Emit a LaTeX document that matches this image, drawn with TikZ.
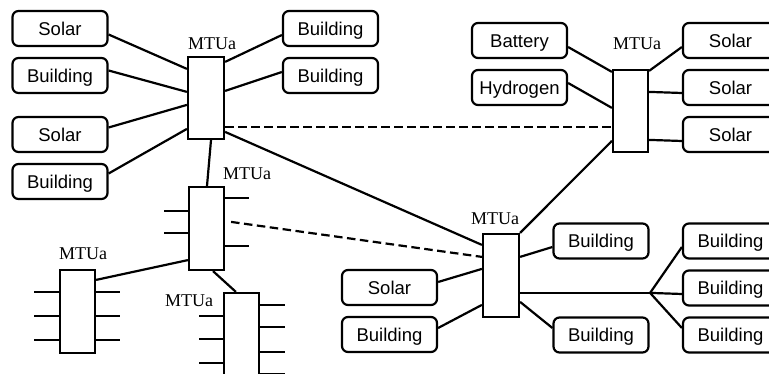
\documentclass[tikz,border=0pt]{standalone}
\usepackage{fontspec}
\setmainfont{Liberation Serif}
\newfontfamily\boxfont{Liberation Sans}
\usetikzlibrary{calc}
\begin{document}
\begin{tikzpicture}[x=1pt,y=-1pt,line width=2.2pt,
  dev/.style={draw,rounded corners=6pt,minimum width=95pt,minimum height=35pt,inner sep=0pt,
    font=\boxfont\fontsize{18.5}{20}\selectfont,text height=13.3pt,text depth=0pt},
  mtu/.style={draw,fill=white,minimum width=35pt,minimum height=83pt,inner sep=0pt},
  lbl/.style={font=\fontsize{18}{20}\selectfont,inner sep=0pt,text height=12.2pt,text depth=0pt},
  dashline/.style={dash pattern=on 8.5pt off 4.5pt}]
\useasboundingbox (0,0) rectangle (769,374);
\clip (0,0) rectangle (769,374);
% left column
\node[dev] (s1) at (60,28.5) {Solar};
\node[dev] (b1) at (60,75.5) {Building};
\node[dev] (s2) at (60,134.5) {Solar};
\node[dev] (b2) at (60,181.5) {Building};
\node[dev] (tb1) at (330.5,28.5) {Building};
\node[dev] (tb2) at (330.5,75.5) {Building};
% top right
\node[dev] (bat) at (519.5,40.5) {Battery};
\node[dev] (hyd) at (519.5,87.5) {Hydrogen};
\node[dev] (rs1) at (730.5,40.5) {Solar};
\node[dev] (rs2) at (730.5,87.5) {Solar};
\node[dev] (rs3) at (730.5,134.5) {Solar};
% bottom right
\node[dev] (ls) at (389.5,287.5) {Solar};
\node[dev] (lb) at (389.5,334.5) {Building};
\node[dev] (bm1) at (601,241) {Building};
\node[dev] (bm2) at (601,335) {Building};
\node[dev] (rb1) at (730.5,241) {Building};
\node[dev] (rb2) at (730.5,288) {Building};
\node[dev] (rb3) at (730.5,335) {Building};
% MTUs
\node[mtu,minimum width=36pt,minimum height=82pt] (m1) at (206,98) {};
\node[mtu] (m2) at (206.5,228.5) {};
\node[mtu] (m3) at (77.5,311.5) {};
\node[mtu,minimum height=100pt] (m4) at (241.5,343) {};
\node[mtu,minimum height=82pt] (m5) at (630.5,111) {};
\node[mtu,minimum width=36pt] (m6) at (501,275.5) {};
% labels
\node[lbl] (l1) at (212,43) {MTUa};
\node[lbl] (l2) at (247,173) {MTUa};
\node[lbl] (l3) at (83,253) {MTUa};
\node[lbl] (l4) at (189,300) {MTUa};
\node[lbl] (l5) at (637,43) {MTUa};
\node[lbl] (l6) at (495,218) {MTUa};
% MTU1 connections
\draw ($(s1.east)+(0,6)$) -- ($(m1.north west)+(0,13)$);
\draw ($(b1.east)+(0,-5)$) -- ($(m1.north west)+(0,36)$);
\draw ($(s2.east)+(0,-7)$) -- ($(m1.north west)+(0,49)$);
\draw ($(b2.east)+(0,-8)$) -- ($(m1.north west)+(0,73)$);
\draw ($(m1.north east)+(0,6)$) -- ($(tb1.west)+(0,6.5)$);
\draw ($(m1.north east)+(0,35)$) -- ($(tb2.west)+(0,-3.5)$);
\draw[dashline] ($(m1.north east)+(0,71)$) -- ($(m5.north west)+(0,58)$);
\draw ($(m1.north east)+(0,76)$) -- ($(m6.north west)+(0,12)$);
\draw ($(m1.south)+(5,0)$) -- ($(m2.north)+(0.5,0)$);
% MTU2
\draw ($(m2.north east)+(0,12)$) -- ++(24,0);
\draw ($(m2.north east)+(0,60)$) -- ++(24,0);
\draw ($(m2.north west)+(0,25)$) -- ++(-24,0);
\draw ($(m2.north west)+(0,47)$) -- ++(-24,0);
\draw[dashline] ($(m2.north east)+(6,36)$) -- ($(m6.north west)+(0,24)$);
\draw ($(m2.south west)+(0,-11)$) -- ($(m3.north east)+(0,11)$);
\draw ($(m2.south)+(6.5,0)$) -- ($(m4.north west)+(13,0)$);
% MTU3 stubs
\foreach \d in {23,47,71}{
  \draw ($(m3.north west)+(0,\d)$) -- ++(-25,0);
  \draw ($(m3.north east)+(0,\d)$) -- ++(24,0);}
% MTU4 stubs
\foreach \d in {24,47,71}{\draw ($(m4.north west)+(0,\d)$) -- ++(-24,0);}
\foreach \d in {13,35,60,82}{\draw ($(m4.north east)+(0,\d)$) -- ++(25,0);}
% MTU5
\draw ($(bat.east)+(0,6.5)$) -- ($(m5.north west)+(0,3)$);
\draw ($(hyd.east)+(0,-4.5)$) -- ($(m5.north west)+(0,39)$);
\draw ($(m5.north east)+(0,2)$) -- ($(rs1.west)+(0,6.5)$);
\draw ($(m5.north east)+(0,23)$) -- ($(rs2.west)+(0,5.5)$);
\draw ($(m5.north east)+(0,71)$) -- ($(rs3.west)+(0,6.5)$);
\draw ($(m5.north west)+(0,72)$) -- (m6.north east);
% MTU6
\coordinate (br) at ($(m6.north east)+(130,60)$);
\draw ($(m6.north east)+(0,24)$) -- ($(bm1.west)+(0,6)$);
\draw ($(m6.north east)+(0,69)$) -- ($(bm2.west)+(0,-7)$);
\draw ($(m6.north east)+(0,60)$) -- (br);
\draw (br) -- ($(rb1.west)+(0,6)$);
\draw (br) -- ($(rb2.west)+(0,6)$);
\draw (br) -- ($(rb3.west)+(0,-7)$);
\draw ($(ls.east)+(0,-5.5)$) -- ($(m6.north west)+(0,36)$);
\draw ($(lb.east)+(0,-6.5)$) -- ($(m6.north west)+(0,72)$);
\end{tikzpicture}
\end{document}
